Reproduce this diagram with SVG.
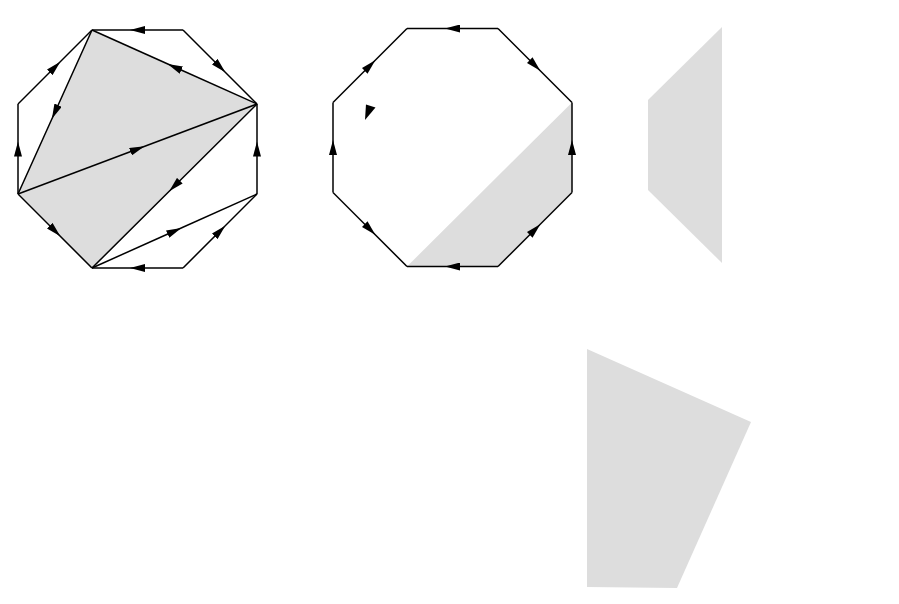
<svg xmlns="http://www.w3.org/2000/svg" width="899" height="604" viewBox="0 0 899 604">
  <style>
    .fill { fill: #dddddd; stroke: none; }
    .edge { fill: none; stroke: #000; stroke-width: 1.5; stroke-linejoin: miter; marker-mid: url(#arrow); }
    .head { fill: #000; stroke: none; }
  </style>
  <defs>
    <marker id="arrow" markerUnits="userSpaceOnUse" viewBox="0 0 15 8" refX="7.5" refY="4" markerWidth="15" markerHeight="8" orient="auto">
      <path d="M0,0 L15,4 L0,8 z" fill="#000"/>
    </marker>
  </defs>
  <rect width="899" height="604" fill="#fff"/>

  <g id="octagon1">
    <polygon class="fill" points="92,30 257,104 92,268 18,194"/>
  </g>
  <g id="octagon2">
    <polygon class="fill" points="407,266.5 572,102.5 572,192.5 498,266.5"/>
    <polygon class="head" points="366,104.5 375.5,107.5 365,120"/>
  </g>
  <g id="shape3">
    <polygon class="fill" points="722,27 648,100 648,190 722,263"/>
  </g>
  <g id="shape4">
    <polygon class="fill" points="587,349 751,422 677,588 587,587"/>
  </g>

  <g id="connectors">
    <!-- octagon 1 edges -->
    <path class="edge" d="M183,30 L137.5,30 L92,30"/>
    <path class="edge" d="M183,30 L220,67 L257,104"/>
    <path class="edge" d="M257,194 L257,149 L257,104"/>
    <path class="edge" d="M183,268 L220,231 L257,194"/>
    <path class="edge" d="M183,268 L137.5,268 L92,268"/>
    <path class="edge" d="M18,194 L55,231 L92,268"/>
    <path class="edge" d="M18,194 L18,149 L18,104"/>
    <path class="edge" d="M18,104 L55,67 L92,30"/>
    <!-- octagon 1 diagonals -->
    <path class="edge" d="M92,30 L55,112 L18,194"/>
    <path class="edge" d="M18,194 L137.5,149 L257,104"/>
    <path class="edge" d="M257,104 L174.5,67 L92,30"/>
    <path class="edge" d="M257,104 L174.5,186 L92,268"/>
    <path class="edge" d="M92,268 L174.5,231 L257,194"/>
    <!-- octagon 2 edges -->
    <path class="edge" d="M498,28.5 L452.5,28.5 L407,28.5"/>
    <path class="edge" d="M498,28.5 L535,65.5 L572,102.5"/>
    <path class="edge" d="M572,192.5 L572,147.5 L572,102.5"/>
    <path class="edge" d="M498,266.5 L535,229.5 L572,192.5"/>
    <path class="edge" d="M498,266.5 L452.5,266.5 L407,266.5"/>
    <path class="edge" d="M333,192.5 L370,229.5 L407,266.5"/>
    <path class="edge" d="M333,192.5 L333,147.5 L333,102.5"/>
    <path class="edge" d="M333,102.5 L370,65.5 L407,28.5"/>
  </g>
</svg>
